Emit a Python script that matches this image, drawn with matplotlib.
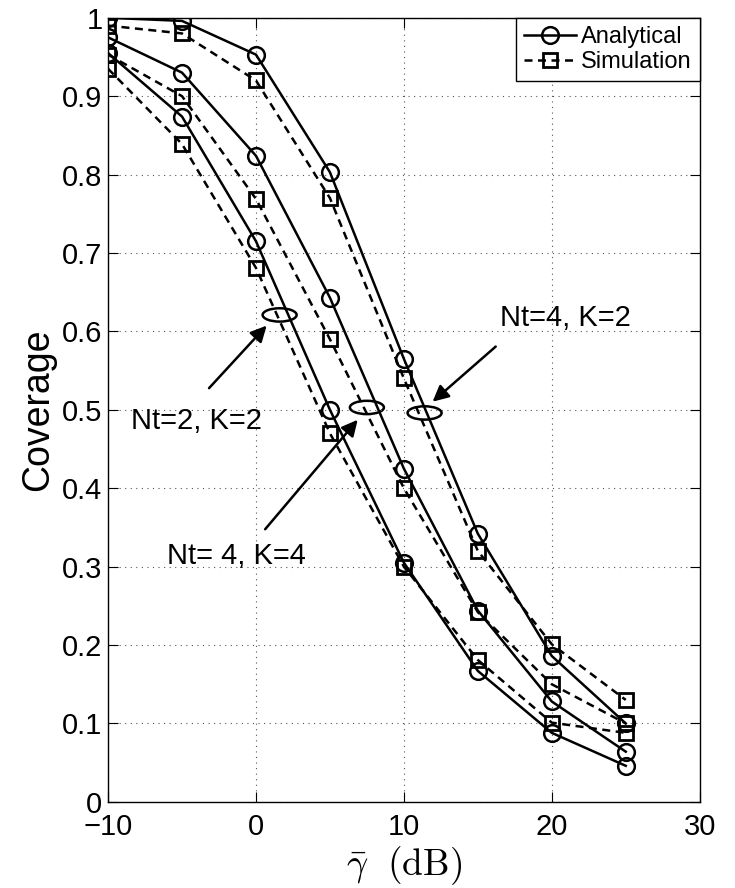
import matplotlib
matplotlib.use("Agg")
import matplotlib.pyplot as plt
from matplotlib.patches import Ellipse

plt.rcParams['font.family'] = ['Liberation Sans', 'DejaVu Sans']
plt.rcParams['mathtext.fontset'] = 'cm'

# datos
snr_db = [-10, -5, 0, 5, 10, 15, 20, 25]

ana_nt4_k2 = [1.0, 0.996, 0.953, 0.803, 0.565, 0.342, 0.186, 0.100]
sim_nt4_k2 = [0.990, 0.980, 0.920, 0.770, 0.540, 0.320, 0.201, 0.130]

ana_nt4_k4 = [0.975, 0.930, 0.824, 0.643, 0.425, 0.244, 0.128, 0.064]
sim_nt4_k4 = [0.953, 0.900, 0.769, 0.590, 0.400, 0.242, 0.150, 0.100]

ana_nt2_k2 = [0.955, 0.874, 0.715, 0.500, 0.305, 0.167, 0.088, 0.046]
sim_nt2_k2 = [0.935, 0.839, 0.681, 0.470, 0.300, 0.181, 0.101, 0.088]

fig = plt.figure(figsize=(7.35, 8.88), dpi=100)
ax = fig.add_axes([0.147, 0.097, 0.805, 0.883])

estilo_a = dict(color='black', linestyle='-', linewidth=1.8, marker='o',
                markersize=12, markerfacecolor='none', markeredgewidth=1.8)
estilo_s = dict(color='black', linestyle=(0, (3.2, 2.2)), linewidth=1.8, marker='s',
                markersize=10, markerfacecolor='none', markeredgewidth=2.0)

ax.plot(snr_db, ana_nt4_k2, label='Analytical', **estilo_a)
ax.plot(snr_db, sim_nt4_k2, label='Simulation', **estilo_s)
ax.plot(snr_db, ana_nt4_k4, **estilo_a)
ax.plot(snr_db, sim_nt4_k4, **estilo_s)
ax.plot(snr_db, ana_nt2_k2, **estilo_a)
ax.plot(snr_db, sim_nt2_k2, **estilo_s)

# elipses de las etiquetas
for (cx, cy) in [(1.6, 0.621), (7.5, 0.503), (11.4, 0.496)]:
    ax.add_patch(Ellipse((cx, cy), 2.3, 0.017, fill=False, edgecolor='black', linewidth=1.8))

flecha = dict(arrowstyle='-|>', color='black', linewidth=1.8, mutation_scale=24)
ax.annotate('', xy=(0.85, 0.610), xytext=(-3.3, 0.525), arrowprops=flecha)
ax.annotate('', xy=(7.0, 0.490), xytext=(0.5, 0.345), arrowprops=flecha)
ax.annotate('', xy=(11.8, 0.508), xytext=(16.35, 0.583), arrowprops=flecha)

ax.text(-4.05, 0.486, 'Nt=2, K=2', fontsize=21, ha='center', va='center')
ax.text(-1.35, 0.314, 'Nt= 4, K=4', fontsize=21, ha='center', va='center')
ax.text(20.9, 0.617, 'Nt=4, K=2', fontsize=21, ha='center', va='center')

ax.set_xlim(-10, 30)
ax.set_ylim(0, 1)
ax.set_xticks([-10, 0, 10, 20, 30])
ax.set_xticklabels(['\u221210', '0', '10', '20', '30'])
ax.set_yticks([0, 0.1, 0.2, 0.3, 0.4, 0.5, 0.6, 0.7, 0.8, 0.9, 1])
ax.set_yticklabels(['0', '0.1', '0.2', '0.3', '0.4', '0.5', '0.6', '0.7', '0.8', '0.9', '1'])
ax.tick_params(direction='in', labelsize=21, length=7, top=True, right=True, pad=4)
ax.tick_params(axis='x', pad=8)
ax.grid(True, linestyle=(0, (1, 4)), color='#555555', linewidth=0.8)

ax.set_xlabel(r'$\bar{\gamma}\ \ \mathrm{(dB)}$', fontsize=27, labelpad=2)
ax.set_ylabel('Coverage', fontsize=27, labelpad=4)

for s in ax.spines.values():
    s.set_linewidth(1.0)

leg = ax.legend(loc='upper right', fontsize=17, fancybox=False, framealpha=1,
                edgecolor='black', borderpad=0.35, handlelength=2.2,
                handletextpad=0.2, labelspacing=0.12, borderaxespad=0.0)
leg.get_frame().set_linewidth(1.0)

fig.savefig('out.png', dpi=100)
